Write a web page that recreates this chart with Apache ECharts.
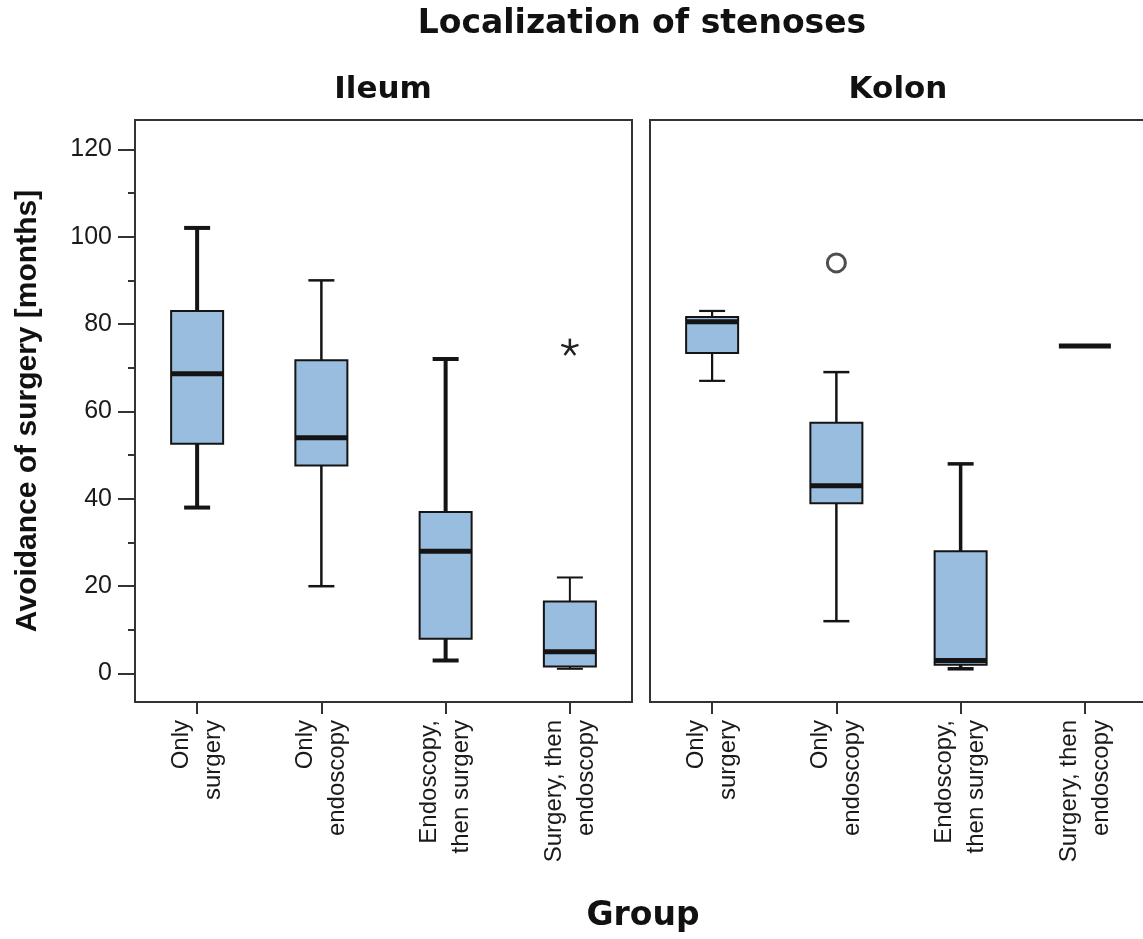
<!DOCTYPE html>
<html>
<head>
<meta charset="utf-8">
<script src="https://cdn.jsdelivr.net/npm/echarts@6/dist/echarts.min.js"></script>
<style>
  html, body { margin: 0; padding: 0; background: #fff; }
  #chart { width: 1143px; height: 939px; }
</style>
</head>
<body>
<div id="chart"></div>
<script>
// 分类与数据
const categories = ['Only\nsurgery', 'Only\nendoscopy', 'Endoscopy,\nthen surgery', 'Surgery, then\nendoscopy']
// [min, q1, median, q3, max]
const ileumBoxes = [
  [38, 52.6, 68.6, 83, 102],
  [20, 47.6, 54, 71.7, 90],
  [3, 8, 28, 37, 72],
  [1.1, 1.6, 5, 16.5, 22]
]
const kolonBoxes = [
  [67, 73.4, 80.5, 81.6, 83],
  [12, 39, 43, 57.4, 69],
  [1.1, 2, 3, 28, 48],
  [75, 75, 75, 75, 75]
]
// 极端值 (*) 和离群值 (o): [category index, value]
const ileumExtremes = [[3, 74.6]]
const kolonOutliers = [[1, 94]]
const yMajorTicks = [0, 20, 40, 60, 80, 100, 120]
const yMinorTicks = [10, 30, 50, 70, 90, 110]

// 线宽（样式）
const ileumWhiskerWidth = [4, 2.5, 4, 2]
const kolonWhiskerWidth = [2.2, 2.5, 3.5, 2]

const boxFill = '#99bddf'
const ink = '#141414'
const frameColor = '#333'

const myChart = echarts.init(document.getElementById('chart'))

const boxRender = (whiskerWidths) => (params, api) => {
  const c = api.value(0)
  const pMin = api.coord([c, api.value(1)])
  const pQ1 = api.coord([c, api.value(2)])
  const pMed = api.coord([c, api.value(3)])
  const pQ3 = api.coord([c, api.value(4)])
  const pMax = api.coord([c, api.value(5)])
  const x = pMed[0]
  const bw = 52
  const cw = 26
  const lw = whiskerWidths[params.dataIndex]
  const line = (x1, y1, x2, y2, w) => ({
    type: 'line',
    shape: { x1, y1, x2, y2 },
    style: { stroke: ink, lineWidth: w }
  })
  const children = [
    line(x, pQ3[1], x, pMax[1], lw),
    line(x - cw / 2, pMax[1], x + cw / 2, pMax[1], lw),
    line(x, pQ1[1], x, pMin[1], lw),
    line(x - cw / 2, pMin[1], x + cw / 2, pMin[1], lw)
  ]
  if (pQ1[1] - pQ3[1] > 0.5) {
    children.push({
      type: 'rect',
      shape: { x: x - bw / 2, y: pQ3[1], width: bw, height: pQ1[1] - pQ3[1] },
      style: { fill: boxFill, stroke: ink, lineWidth: 2 }
    })
  }
  children.push(line(x - bw / 2, pMed[1], x + bw / 2, pMed[1], 5))
  return { type: 'group', children }
}

const starRender = (params, api) => {
  const p = api.coord([api.value(0), api.value(1)])
  const r = 9
  const children = []
  for (let k = 0; k < 5; k++) {
    const a = -Math.PI / 2 + (k * 2 * Math.PI) / 5
    children.push({
      type: 'line',
      shape: { x1: p[0], y1: p[1], x2: p[0] + r * Math.cos(a), y2: p[1] + r * Math.sin(a) },
      style: { stroke: '#222', lineWidth: 2.5 }
    })
  }
  return { type: 'group', children }
}

const xAxisBase = (gridIndex) => ({
  type: 'category',
  gridIndex,
  data: categories,
  boundaryGap: true,
  axisLine: { show: false, onZero: false },
  axisTick: { show: true, alignWithLabel: true, length: 12, lineStyle: { color: frameColor, width: 2 } },
  axisLabel: {
    rotate: 90,
    margin: 18,
    fontFamily: 'Liberation Sans',
    fontSize: 24,
    lineHeight: 32,
    color: '#1a1a1a',
    interval: 0
  },
  splitLine: { show: false }
})

const gridBase = (left) => ({
  left,
  top: 120,
  width: 497,
  height: 582,
  outerBoundsMode: 'none',
  containLabel: false,
  show: true,
  borderColor: frameColor,
  borderWidth: 2,
  backgroundColor: 'transparent'
})

const option = {
  animation: false,
  backgroundColor: '#fff',
  graphic: [
    {
      type: 'text', x: 642, y: 24,
      style: { text: 'Localization of stenoses', font: 'bold 33px "DejaVu Sans"', fill: '#111', align: 'center', verticalAlign: 'middle' }
    },
    {
      type: 'text', x: 383, y: 90,
      style: { text: 'Ileum', font: 'bold 31px "DejaVu Sans"', fill: '#111', align: 'center', verticalAlign: 'middle' }
    },
    {
      type: 'text', x: 898, y: 90,
      style: { text: 'Kolon', font: 'bold 31px "DejaVu Sans"', fill: '#111', align: 'center', verticalAlign: 'middle' }
    },
    {
      type: 'text', x: 643, y: 916,
      style: { text: 'Group', font: 'bold 33px "DejaVu Sans"', fill: '#111', align: 'center', verticalAlign: 'middle' }
    },
    {
      type: 'text', x: 28, y: 411, rotation: Math.PI / 2,
      style: { text: 'Avoidance of surgery [months]', font: 'bold 30px "Liberation Sans"', fill: '#111', align: 'center', verticalAlign: 'middle' }
    }
  ],
  grid: [gridBase(135), gridBase(650)],
  xAxis: [xAxisBase(0), xAxisBase(1)],
  yAxis: [
    {
      type: 'value',
      gridIndex: 0,
      min: -6.5,
      max: 126.7,
      axisLine: { show: false },
      splitLine: { show: false },
      axisTick: { show: true, length: 17, customValues: yMajorTicks, lineStyle: { color: frameColor, width: 2 } },
      axisLabel: {
        customValues: yMajorTicks,
        margin: 23,
        fontFamily: 'Liberation Sans',
        fontSize: 25,
        color: '#1a1a1a'
      }
    },
    {
      type: 'value',
      gridIndex: 0,
      position: 'left',
      min: -6.5,
      max: 126.7,
      axisLine: { show: false },
      splitLine: { show: false },
      axisLabel: { show: false },
      axisTick: { show: true, length: 7, customValues: yMinorTicks, lineStyle: { color: frameColor, width: 2 } }
    },
    {
      type: 'value',
      gridIndex: 1,
      min: -6.5,
      max: 126.7,
      axisLine: { show: false },
      splitLine: { show: false },
      axisTick: { show: false },
      axisLabel: { show: false }
    }
  ],
  series: [
    {
      name: 'Ileum',
      type: 'custom',
      xAxisIndex: 0,
      yAxisIndex: 0,
      renderItem: boxRender(ileumWhiskerWidth),
      data: ileumBoxes.map((b, i) => [i, ...b]),
      encode: { x: 0, y: [1, 2, 3, 4, 5] }
    },
    {
      name: 'Ileum extremes',
      type: 'custom',
      xAxisIndex: 0,
      yAxisIndex: 0,
      renderItem: starRender,
      data: ileumExtremes,
      encode: { x: 0, y: 1 }
    },
    {
      name: 'Kolon',
      type: 'custom',
      xAxisIndex: 1,
      yAxisIndex: 2,
      renderItem: boxRender(kolonWhiskerWidth),
      data: kolonBoxes.map((b, i) => [i, ...b]),
      encode: { x: 0, y: [1, 2, 3, 4, 5] }
    },
    {
      name: 'Kolon outliers',
      type: 'scatter',
      xAxisIndex: 1,
      yAxisIndex: 2,
      symbol: 'circle',
      symbolSize: 18,
      itemStyle: { color: '#fff', borderColor: '#222', borderWidth: 3 },
      data: kolonOutliers
    }
  ]
}

myChart.setOption(option)

window.addEventListener('resize', () => {
  myChart.resize()
})
</script>
</body>
</html>
